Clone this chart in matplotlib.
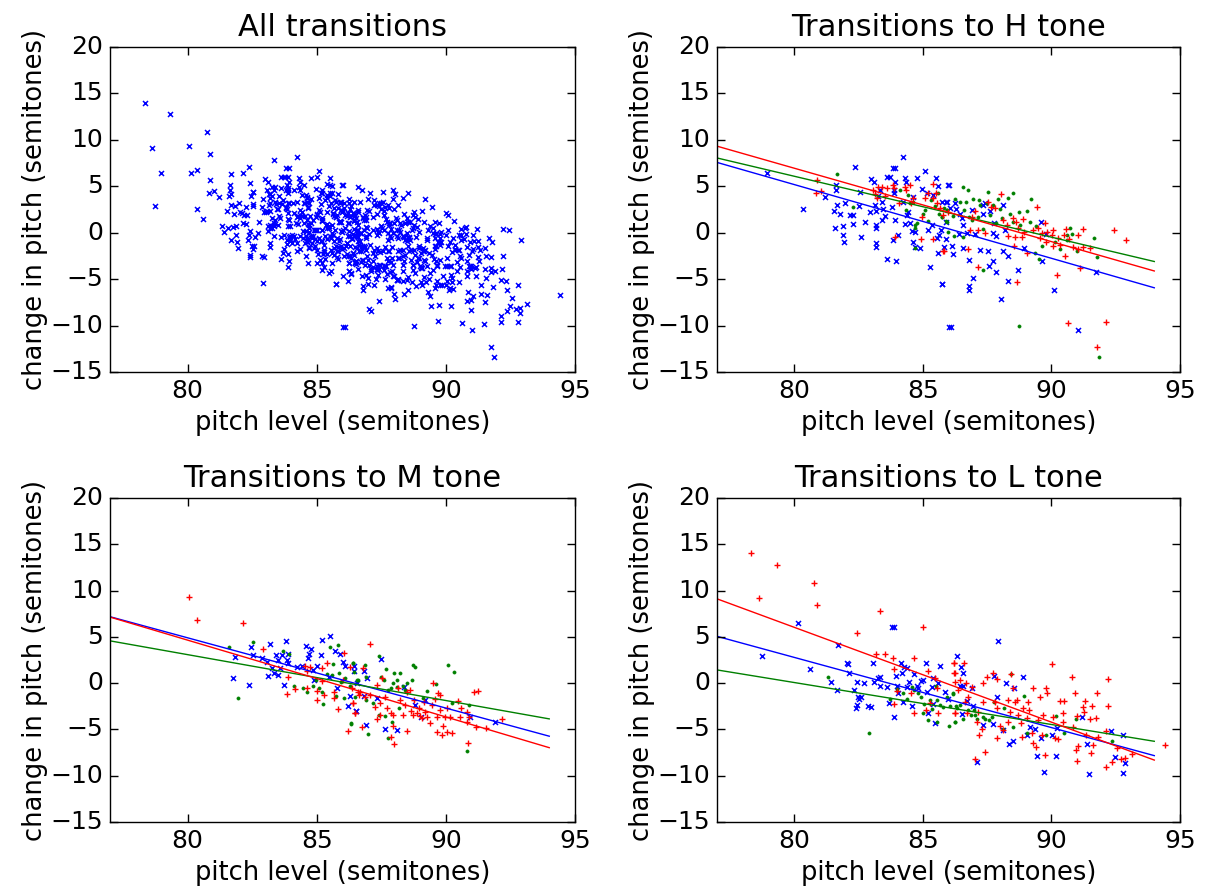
import numpy as np
import matplotlib
matplotlib.use("Agg")
import matplotlib.pyplot as plt

plt.style.use("classic")

# (pitch level, change in pitch), grouped by target tone and colour
h_blue = [(78.96, 6.38), (80.36, 2.58), (81.2, 3.8), (81.63, 5.09), (81.63, 4.55), (81.53, 2.29), (81.57, 0.5),
          (81.68, 3.0), (81.79, 2.04), (81.88, 0.7), (81.88, -0.2), (81.92, -1.05), (81.98, 3.2), (82.17, 1.9),
          (82.3, 1.9), (82.28, 0.95), (82.37, 7.06), (82.52, 2.9), (82.54, 4.37), (82.6, -0.44), (82.76, 1.2),
          (82.95, 2.2), (83.0, 5.8), (83.1, 5.5), (83.15, 3.0), (83.2, 2.3), (83.2, 0.86), (83.2, 0.5),
          (83.2, -1.1), (83.2, -1.5), (83.27, 3.9), (83.34, 4.6), (83.4, 3.35), (83.4, 1.4), (83.47, 2.5),
          (83.53, 1.75), (83.6, 6.0), (83.6, -2.85), (83.73, 6.0), (83.8, 2.8), (83.83, 7.0), (83.92, 7.0),
          (83.88, 4.6), (83.88, 4.26), (83.92, 1.4), (83.92, 5.5), (83.86, -0.77), (83.94, -3.0), (84.05, -0.2),
          (84.25, 8.2), (84.25, 3.36), (84.31, 5.9), (84.35, 5.5), (84.37, 1.9), (84.29, 0.9), (84.44, 2.2),
          (84.5, 1.0), (84.57, 0.2), (84.63, -1.05), (84.7, -1.5), (84.63, 3.8), (84.7, 0.1), (84.76, 5.9),
          (84.9, -1.65), (84.96, 4.7), (85.08, 6.6), (85.15, 4.25), (85.28, -3.7), (85.22, 0.24), (85.35, 0.85),
          (85.38, 4.1), (85.5, 5.9), (85.6, 5.0), (85.54, -0.6), (85.64, -0.2), (85.58, -2.2), (85.7, 0.24),
          (85.73, -5.5), (85.73, 3.36), (85.82, -1.55), (85.9, -0.66), (85.93, 3.36), (85.99, 5.15), (86.03, -10.2),
          (86.02, 5.15), (85.89, 3.36), (86.25, 3.25), (86.06, 2.7), (86.29, 2.57), (86.45, 2.03), (86.51, 1.56),
          (86.58, 0.85), (85.9, 1.2), (86.42, -0.16), (86.71, -0.05), (87.03, -0.16), (86.93, 2.46), (87.35, 2.03),
          (87.33, 3.0), (87.42, 3.18), (87.61, 2.39), (87.74, -0.05), (87.85, -0.34), (87.78, 1.03), (88.13, 3.0),
          (88.2, 0.3), (86.12, -1.4), (86.19, -2.28), (86.55, -1.67), (86.8, -2.9), (87.23, -1.85), (87.55, -2.0),
          (87.74, -3.0), (87.59, -3.57), (88.13, -2.0), (88.33, -2.56), (87.83, -4.25), (86.97, -4.9), (86.81, -5.7),
          (86.81, -6.15), (85.73, -5.55), (88.33, -5.15), (88.04, -7.1), (88.72, -4.0), (88.94, -1.6), (89.62, -3.0),
          (89.58, 1.1), (89.79, -0.16), (90.12, -6.15), (86.1, -10.2), (91.02, -10.46), (91.74, -4.2)]
h_green = [(81.67, 6.34), (82.28, 2.82), (84.34, 2.46), (84.44, 4.08), (84.63, 3.36), (84.5, 3.18), (84.7, 0.85),
           (84.7, 0.49), (84.76, 1.03), (85.0, 2.03), (85.09, 2.46), (85.22, 1.3), (85.31, 3.47), (85.48, 2.89),
           (85.61, 4.26), (85.73, 1.74), (85.82, 2.64), (85.93, 1.2), (85.64, 2.03), (85.99, 0.13), (85.95, 2.46),
           (84.7, -1.6), (84.12, 4.6), (86.58, 4.97), (86.77, 4.6), (87.55, 4.43), (88.33, 3.7), (88.52, 4.26),
           (89.2, 3.6), (86.25, 3.6), (86.45, 3.36), (86.68, 3.36), (86.97, 3.6), (87.2, 3.54), (87.23, 3.0),
           (87.48, 3.18), (87.74, 3.0), (87.94, 3.6), (88.0, 2.53), (85.93, 2.46), (85.73, 1.74), (85.9, 1.3),
           (86.19, 1.82), (86.6, 2.46), (86.81, 1.67), (86.9, 1.39), (87.16, 1.74), (87.33, 0.38), (87.61, 1.92),
           (87.85, 1.03), (88.07, 1.56), (88.39, 2.03), (88.52, 1.2), (88.75, 2.28), (88.78, 0.85), (89.07, 2.39),
           (89.17, 1.2), (89.4, 0.67), (86.21, -0.34), (86.58, -0.41), (87.35, -4.0), (89.36, -2.2), (89.53, -2.8),
           (89.62, -1.4), (90.14, -1.05), (90.34, -1.74), (90.6, -0.77), (90.72, 0.49), (90.79, -0.16), (90.6, -0.23),
           (91.01, -2.02), (91.66, -0.52), (91.76, -2.63), (88.75, -10.0), (91.87, -13.4)]
h_red = [(80.87, 5.68), (80.85, 4.26), (81.04, 4.5), (83.08, 4.6), (83.14, 4.17), (83.21, 3.7), (83.27, 4.97),
         (83.4, 4.93), (83.6, 4.8), (83.53, 3.9), (83.86, 5.15), (83.88, 4.8), (84.09, 3.25), (84.31, 4.97),
         (84.5, 5.15), (84.63, 3.7), (84.53, 3.18), (84.96, 1.74), (84.93, -0.7), (83.92, -0.41), (85.09, 3.7),
         (85.22, 4.26), (85.39, 5.23), (85.41, 3.7), (85.51, 4.33), (85.57, 3.25), (85.67, 2.7), (85.8, 1.92),
         (85.99, 2.28), (85.39, -0.7), (85.8, -1.92), (84.34, 4.6), (85.83, -1.92), (86.77, -1.77), (86.9, 1.67),
         (87.03, 2.35), (86.84, 0.31), (87.16, 0.31), (87.42, 0.02), (87.55, 3.36), (87.64, 2.82), (87.81, 2.64),
         (88.03, 4.15), (88.11, 1.39), (88.26, 0.85), (88.33, -0.34), (88.5, 1.56), (88.62, 1.1), (88.72, 0.49),
         (88.91, 1.49), (88.59, -0.41), (88.85, -0.41), (88.55, -1.41), (89.04, -2.2), (88.95, 0.13), (89.3, 0.31),
         (89.45, 2.75), (89.49, 0.49), (89.62, -0.05), (89.56, -0.59), (89.75, 1.03), (89.82, 0.13), (90.01, -0.23),
         (90.08, 0.31), (89.79, -0.95), (90.08, -1.41), (90.27, -0.59), (90.34, -1.31), (90.49, -0.23), (90.57, 0.38),
         (90.7, -0.7), (90.83, -1.56), (91.05, -0.23), (91.22, 0.38), (91.05, -1.77), (91.24, -1.56), (91.5, -1.67),
         (90.53, -2.49), (91.11, -3.82), (90.21, -4.54), (88.68, -5.33), (87.16, -3.64), (92.44, 0.24), (92.9, -0.77),
         (90.63, -9.67), (92.12, -9.63), (91.76, -12.33)]

m_blue = [(81.75, 0.59), (82.37, -0.2), (81.85, 2.86), (82.46, 3.9), (82.55, 3.04), (82.87, 2.75), (83.2, 4.19),
          (83.07, 2.32), (83.26, 1.6), (83.43, 3.04), (83.49, 2.5), (83.65, 3.04), (83.8, 4.55), (83.84, 2.5),
          (83.9, 3.15), (83.9, 2.14), (83.58, 1.6), (83.35, 1.06), (83.49, 0.88), (83.13, 0.77), (83.74, -0.24),
          (84.23, 1.71), (84.42, 1.85), (84.59, 4.01), (84.72, 3.15), (84.77, 3.65), (84.68, 2.72), (84.87, 1.42),
          (85.03, 1.89), (85.16, 3.04), (85.21, 4.62), (85.52, 5.09), (85.71, 3.51), (85.9, 3.15), (86.01, 2.32),
          (86.1, 1.89), (84.91, 0.34), (85.49, 0.7), (85.78, -0.56), (86.29, -1.39), (86.45, 1.35), (86.2, -2.47),
          (86.52, -3.01), (87.48, 2.57), (86.44, 1.85), (86.83, 1.35), (86.96, 0.52), (86.55, -0.02), (86.83, -1.39),
          (87.35, -1.64), (86.52, -3.01), (86.9, -4.52), (87.64, -4.99), (88.1, -5.06), (88.38, -0.45), (88.81, -2.36),
          (89.04, -3.69), (89.19, -1.82), (91.9, -4.16), (90.94, -3.62)]
m_green = [(81.62, 3.94), (81.97, -1.64), (82.55, 4.41), (83.68, 3.51), (83.94, 3.15), (84.12, -0.31), (84.48, -0.56),
           (84.61, -0.92), (84.87, -0.31), (84.98, 0.34), (85.1, -0.56), (85.2, -0.92), (85.26, -2.25), (85.39, 0.99),
           (85.52, 3.94), (85.58, 0.88), (85.62, 2.07), (85.84, 4.12), (85.88, 1.13), (85.75, -1.39), (85.93, 0.16),
           (86.06, -1.64), (86.1, 0.52), (86.29, -0.31), (86.4, 2.14), (86.45, 1.24), (86.32, -4.41), (86.58, 0.34),
           (86.39, 2.14), (86.55, 0.34), (86.87, 1.96), (86.91, 0.63), (86.48, -1.53), (86.91, -1.82), (87.19, -2.18),
           (87.43, 2.93), (87.48, 0.7), (87.68, 1.49), (87.62, 0.34), (87.74, -0.74), (87.86, -0.56), (87.94, -0.02),
           (88.01, 1.06), (88.1, 0.34), (88.23, 1.06), (88.1, -0.38), (88.35, -0.31), (88.42, -0.74), (88.51, -0.02),
           (88.7, 0.34), (88.72, 1.96), (88.82, 1.71), (89.28, -0.81), (89.62, -0.09), (89.13, -1.64), (88.2, -2.72),
           (87.64, -3.55), (87.43, -3.44), (87.9, -4.16), (87.74, -5.96), (87.0, -5.49), (86.33, -4.34), (90.1, 1.96),
           (90.33, 1.24), (90.23, -2.11), (90.91, -2.36), (90.83, -7.33)]
m_red = [(80.07, 9.34), (80.38, 6.78), (82.16, 6.46), (82.94, 3.65), (83.9, 0.7), (83.84, -1.21), (84.16, -0.67),
         (84.55, 1.85), (84.61, 1.35), (84.74, 1.78), (84.64, -0.56), (85.0, -0.85), (85.0, -1.82), (85.2, 0.27),
         (85.22, 1.6), (85.41, 2.21), (85.28, -1.28), (85.65, -0.92), (85.67, -1.64), (85.84, -2.79), (86.07, 3.22),
         (86.01, 0.34), (86.29, 1.71), (86.36, -0.56), (86.42, -2.18), (86.49, -3.26), (86.23, -5.17), (86.58, -0.92),
         (86.65, -1.28), (87.06, 4.23), (86.81, 1.6), (87.32, -0.2), (87.52, 0.52), (86.42, -2.18), (86.48, -3.19),
         (86.74, -4.7), (87.26, -2.54), (87.45, -2.11), (87.45, -3.44), (87.32, -3.91), (87.64, -1.53), (87.71, -2.72),
         (87.86, -3.19), (87.97, -3.44), (87.94, -4.63), (87.88, -5.85), (87.99, -6.57), (88.16, -0.56), (88.23, -1.82),
         (88.33, -3.44), (88.42, -2.36), (88.51, -5.13), (88.61, -0.74), (88.64, -2.97), (88.72, -3.44), (88.77, -1.82),
         (88.87, -3.19), (88.94, -2.72), (89.0, -3.55), (89.06, -3.8), (89.15, -2.0), (89.19, -3.08), (89.28, -3.62),
         (89.39, -4.34), (89.45, -2.36), (89.58, -1.75), (89.64, -3.62), (89.71, -1.03), (89.67, -5.24), (89.77, -1.28),
         (89.77, -2.9), (89.84, -5.6), (89.9, -4.63), (89.97, -3.62), (90.03, -2.72), (90.06, -5.24), (90.16, -3.62),
         (90.23, -5.35), (90.48, -1.89), (90.57, -2.72), (90.55, -3.69), (90.83, -3.08), (90.91, -3.62), (90.83, -4.16),
         (90.87, -6.43), (91.1, -0.92), (91.23, -0.85), (91.17, -4.7), (91.55, -4.88), (92.16, -3.91), (86.68, -0.92),
         (86.87, -1.53), (87.06, -1.28), (88.51, -0.92), (89.52, -0.02)]

l_blue = [(80.13, 6.46), (78.76, 2.93), (80.61, 1.49), (81.69, 4.12), (81.43, 0.09), (81.68, -0.74), (82.04, 2.21),
          (82.1, 2.07), (82.14, 1.06), (82.43, 0.16), (82.34, -0.74), (82.49, -1.46), (82.53, -1.75), (82.43, -2.36),
          (82.4, -2.65), (82.58, -1.46), (82.73, -0.02), (82.88, -2.47), (82.97, -2.61), (83.05, 2.21), (83.1, 0.16),
          (83.27, 0.52), (83.33, -0.31), (83.33, 0.7), (83.62, -0.45), (83.7, -2.18), (83.79, 6.03), (83.89, 6.03),
          (83.96, 0.77), (83.98, -0.31), (84.05, -1.1), (84.14, 2.14), (84.18, 1.06), (84.22, -2.0), (84.28, 1.78),
          (84.37, 1.6), (84.37, -0.38), (84.47, 0.16), (84.6, -2.47), (84.67, 0.99), (84.76, -0.31), (84.82, -0.56),
          (84.92, 0.27), (85.02, 0.34), (85.12, 2.21), (85.15, -0.92), (85.34, -0.38), (85.38, 0.52), (85.41, -2.25),
          (85.47, -4.34), (85.6, -0.02), (85.67, 1.85), (85.86, -0.92), (85.99, -1.75), (83.88, -3.69), (85.21, -3.26),
          (86.34, 2.93), (86.47, 1.79), (86.55, 1.14), (86.45, -0.3), (86.55, -0.3), (86.71, -1.92), (86.9, -0.55),
          (86.51, -3.32), (86.94, -2.46), (87.36, -4.51), (87.72, -4.4), (87.9, -1.52), (87.78, 0.78), (88.24, 0.06),
          (88.56, -0.55), (88.11, -5.05), (88.37, -6.56), (88.52, -6.2), (88.88, 0.64), (89.07, -5.59), (89.17, -4.76),
          (89.36, -4.98), (89.58, -5.95), (89.43, -7.86), (90.01, -5.59), (90.18, -7.86), (90.23, -4.87), (89.71, -9.55),
          (87.94, 4.6), (87.1, -8.47), (91.18, -3.68), (91.37, -6.56), (91.48, -9.8), (92.32, -5.16), (92.48, -7.93),
          (92.8, -5.59), (92.86, -8.65), (92.8, -9.66)]
l_green = [(81.33, 0.7), (82.92, -5.42), (83.72, -1.75), (83.98, -0.67), (84.22, -1.1), (84.37, -1.75), (84.57, -0.38),
           (84.67, -0.74), (84.82, -1.1), (84.95, -1.46), (85.05, -2.25), (85.0, -3.26), (85.21, -3.98), (85.34, -2.83),
           (85.51, -0.31), (85.54, -1.82), (85.56, -4.16), (85.67, -2.36), (85.77, -2.61), (85.93, -1.46), (86.0, -4.63),
           (86.06, -2.47), (86.19, -1.1), (86.25, -4.16), (86.32, -2.72), (85.28, -1.82), (86.16, -1.16), (86.29, -2.46),
           (86.25, -4.15), (86.58, -3.9), (86.77, -2.89), (86.86, -3.43), (87.03, -3.43), (86.99, -2.89), (87.1, -3.9),
           (87.42, -3.9), (87.59, -3.97), (87.68, -3.61), (87.77, -1.99), (88.13, -4.98), (88.16, -2.71), (88.42, 1.0),
           (88.52, -4.76), (88.94, -1.38), (89.04, -5.34), (89.79, -5.59), (90.18, -3.54), (90.5, -5.34), (90.96, -3.9),
           (92.35, -6.2), (86.45, -2.35), (87.33, -3.61)]
l_red = [(78.34, 14.02), (79.32, 12.76), (78.64, 9.16), (80.77, 10.85), (80.87, 8.44), (83.33, 7.79), (82.43, 5.38),
         (85.02, 6.03), (83.2, 3.15), (83.53, 3.15), (83.83, 2.68), (84.66, 2.68), (83.88, 1.49), (85.19, 1.35),
         (85.47, 0.52), (86.21, 2.14), (86.25, 1.06), (83.98, -0.85), (84.53, -1.1), (83.88, -2.25), (84.66, -3.26),
         (85.12, -2.9), (85.28, -2.11), (85.6, -3.26), (86.25, -3.26), (85.54, -0.56), (86.22, 2.15), (86.22, 1.07),
         (86.6, 2.22), (86.68, 0.0), (86.45, 0.35), (86.38, -0.73), (86.77, -1.45), (86.64, -1.99), (86.25, -3.25),
         (86.73, -3.18), (87.1, -4.15), (87.16, -3.07), (87.29, -4.98), (87.36, -1.99), (87.36, 0.06), (87.49, 0.71),
         (87.42, -7.39), (87.03, -8.22), (87.2, -5.59), (87.72, 1.14), (87.87, 0.42), (87.81, -1.99), (87.9, -2.71),
         (88.0, -4.62), (87.87, -5.95), (88.13, -5.05), (88.33, -1.81), (88.33, -4.15), (88.39, -3.07), (88.42, 1.0),
         (88.52, -0.55), (88.59, -1.99), (88.65, -1.81), (88.72, -3.43), (88.81, -4.33), (88.85, -5.77), (88.91, -2.71),
         (89.04, -3.79), (89.1, -1.99), (89.14, -2.89), (89.27, -0.55), (89.24, -5.34), (89.3, -6.42), (89.4, -6.85),
         (89.49, -3.97), (89.56, -1.45), (89.62, -5.59), (89.66, -3.43), (89.75, -7.75), (89.79, -0.55), (89.82, -1.02),
         (90.01, 2.08), (90.05, -3.61), (90.14, -5.95), (90.27, -6.06), (90.34, -1.88), (90.44, -3.18), (90.49, -1.88),
         (90.44, -4.15), (90.79, 0.64), (90.83, -4.69), (90.92, -1.02), (90.96, -7.21), (90.98, -8.36), (91.05, -6.78),
         (90.98, -3.54), (91.24, -2.6), (91.27, -3.07), (91.31, -1.88), (91.35, -5.59), (91.5, -3.9), (91.57, -2.46),
         (91.53, -7.5), (91.61, -6.67), (91.74, -3.79), (91.79, -1.02), (91.83, -5.84), (92.13, -9.01), (92.13, -5.12),
         (92.22, 0.42), (92.22, -2.46), (92.35, -8.47), (92.54, -7.03), (92.7, -8.22), (92.86, -8.11), (93.12, -7.64),
         (94.4, -6.7), (86.25, 0.17), (86.9, -0.37)]

# regression lines (blue, green, red) read at x = 77 and x = 94
line_x = [77, 94]
h_lines = {"b": (7.57, -5.93), "g": (8.05, -3.10), "r": (9.32, -4.12)}
m_lines = {"b": (7.18, -5.73), "g": (4.57, -3.86), "r": (7.14, -6.97)}
l_lines = {"b": (5.06, -7.83), "g": (1.43, -6.28), "r": (9.11, -8.31)}

titles = ["All transitions", "Transitions to H tone", "Transitions to M tone", "Transitions to L tone"]

fig = plt.figure(figsize=(12.13, 8.93), dpi=100, facecolor="white")
positions = [[0.0907, 0.5834, 0.3834, 0.3640], [0.5911, 0.5834, 0.3817, 0.3640],
             [0.0907, 0.0795, 0.3834, 0.3628], [0.5911, 0.0795, 0.3817, 0.3628]]
axes = [fig.add_axes(p) for p in positions]


def scatter(ax, pts, color):
    a = np.array(pts)
    if color == "b":
        ax.plot(a[:, 0], a[:, 1], "x", color="b", ms=3.6, mew=1.1)
    elif color == "g":
        ax.plot(a[:, 0], a[:, 1], ".", color="g", ms=4.5, mew=0.5)
    else:
        ax.plot(a[:, 0], a[:, 1], "+", color="r", ms=4.2, mew=1.0)


# all transitions: every point in blue
everything = h_blue + h_green + h_red + m_blue + m_green + m_red + l_blue + l_green + l_red
scatter(axes[0], everything, "b")

groups = [(axes[1], h_blue, h_green, h_red, h_lines),
          (axes[2], m_blue, m_green, m_red, m_lines),
          (axes[3], l_blue, l_green, l_red, l_lines)]
for ax, pb, pg, pr, lines in groups:
    scatter(ax, pb, "b")
    scatter(ax, pg, "g")
    scatter(ax, pr, "r")
    for c in ["b", "g", "r"]:
        ax.plot(line_x, lines[c], "-", color=c, lw=1.0)

for ax, t in zip(axes, titles):
    ax.set_xlim(77, 95)
    ax.set_ylim(-15, 20)
    ax.set_xticks([80, 85, 90, 95])
    ax.set_yticks(range(-15, 21, 5))
    ax.tick_params(labelsize=18, length=6, width=1, pad=5)
    ax.set_title(t, fontsize=22, pad=8)
    ax.set_xlabel("pitch level (semitones)", fontsize=18.5, labelpad=5)
    ax.set_ylabel("change in pitch (semitones)", fontsize=18.5, labelpad=2)

fig.savefig("out.png", dpi=100, facecolor="white")
